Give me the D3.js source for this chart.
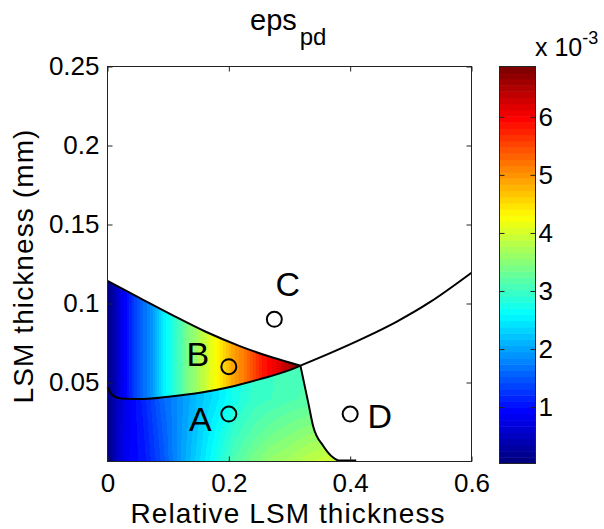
<!DOCTYPE html>
<html>
<head>
<meta charset="utf-8">
<script src="https://cdn.jsdelivr.net/npm/d3@7"></script>
<style>
  body { margin: 0; background: #fff; }
  text { font-family: "Liberation Sans", Arial, sans-serif; fill: #000; }
</style>
</head>
<body>
<svg id="chart" width="604" height="529"></svg>
<script>
// ticks
var xTicks = [0, 0.2, 0.4, 0.6];
var yTicks = [0.05, 0.1, 0.15, 0.2, 0.25];
var cTicks = [1, 2, 3, 4, 5, 6];
var cRange = [0.03, 6.866];   // colour limits, x 10^-3

// boundary curves [relative thickness, thickness mm]
var upperEdge = [[0, 0.1143], [0.052, 0.1037], [0.107, 0.0926], [0.162, 0.0821], [0.217, 0.0732], [0.272, 0.0658], [0.318, 0.0607]];
var lowerEdge = [[0, 0.047], [0.005, 0.0435], [0.015, 0.0405], [0.03, 0.0397], [0.06, 0.0396], [0.1, 0.041], [0.15, 0.0433], [0.2, 0.047], [0.25, 0.052], [0.3, 0.0578], [0.318, 0.0607]];
var rightEdge = [[0.318, 0.0607], [0.367, 0.0686], [0.422, 0.0781], [0.477, 0.0886], [0.532, 0.101], [0.6, 0.1195]];
var dropEdge = [[0.318, 0.0607], [0.331, 0.0371], [0.339, 0.0223], [0.356, 0.0097], [0.372, 0.0025], [0.382, 0.0006], [0.41, 0.0006]];

// eps_pd above the lower edge (x 10^-3), depends on x only
var bCols = [0, 0.015, 0.03, 0.05, 0.075, 0.09, 0.11, 0.135, 0.16, 0.18, 0.205, 0.23, 0.255, 0.285, 0.305, 0.32];
var bVals = [0.1, 0.5, 0.95, 1.45, 1.95, 2.45, 2.9, 3.45, 3.9, 4.3, 4.85, 5.25, 5.8, 6.2, 6.6, 6.86];

// eps_pd below the lower edge (x 10^-3), grid rows = thickness
var aCols = [0, 0.015, 0.03, 0.06, 0.09, 0.12, 0.15, 0.18, 0.21, 0.24, 0.27, 0.30, 0.33, 0.36, 0.39];
var aRows = [0, 0.02, 0.04, 0.06];
var aVals = [
    [0.1, 0.5, 0.85, 1.05, 1.45, 1.95, 2.35, 2.75, 3.15, 3.4, 3.6, 3.7, 3.85, 3.95, 4.0],
    [0.1, 0.5, 0.82, 1.1, 1.52, 1.92, 2.28, 2.62, 2.95, 3.15, 3.3, 3.4, 3.5, 3.55, 3.6],
    [0.1, 0.5, 0.8, 1.15, 1.6, 1.9, 2.2, 2.45, 2.75, 2.95, 3.02, 3.1, 3.15, 3.2, 3.25],
    [0.1, 0.5, 0.8, 1.15, 1.6, 1.9, 2.2, 2.45, 2.72, 2.92, 3.0, 3.08, 3.12, 3.15, 3.2]
];

// marked points and their letters
var pointNames = ['A', 'B', 'C', 'D'];
var pointX = [0.2, 0.2, 0.275, 0.4];
var pointY = [0.03, 0.06, 0.09, 0.03];
var letterX = [0.153, 0.149, 0.297, 0.449];
var letterY = [0.019, 0.0606, 0.1048, 0.0215];

var svg = d3.select('#chart');

var x = d3.scaleLinear().domain([0, 0.6]).range([107.5, 471.5]),
    y = d3.scaleLinear().domain([0, 0.25]).range([461.5, 66.5]);

function jet(t) {
    var f = function(v) { return Math.max(0, Math.min(1, v)) * 255; };
    return d3.rgb(f(1.5 - Math.abs(4*t - 3)), f(1.5 - Math.abs(4*t - 2)), f(1.5 - Math.abs(4*t - 1))).formatHex();
}
var jet64 = d3.range(64).map(function(i) { return jet(i / 63); });
var color = d3.scaleQuantize().domain(cRange).range(jet64);

// field images
var imgX = 107, imgY = 66, imgW = 366, imgH = 397;

function fieldImage(colValue) {
    var cv = document.createElement('canvas');
    cv.width = imgW; cv.height = imgH;
    var ctx = cv.getContext('2d'),
        img = ctx.createImageData(imgW, imgH);
    for (var i = 0; i < imgW; i++) {
        var vAt = colValue(x.invert(imgX + i + 0.5));
        for (var j = 0; j < imgH; j++) {
            var c = d3.rgb(color(vAt(y.invert(imgY + j + 0.5)))),
                k = (j * imgW + i) * 4;
            img.data[k] = c.r; img.data[k+1] = c.g; img.data[k+2] = c.b; img.data[k+3] = 255;
        }
    }
    ctx.putImageData(img, 0, 0);
    return cv.toDataURL();
}

var bScale = d3.scaleLinear().domain(bCols).range(bVals).clamp(true);
var aRowScales = aVals.map(function(r) { return d3.scaleLinear().domain(aCols).range(r).clamp(true); });

var imgB = fieldImage(function(dx) {
    var v = bScale(dx);
    return function() { return v; };
});
var imgA = fieldImage(function(dx) {
    return d3.scaleLinear().domain(aRows).range(aRowScales.map(function(s) { return s(dx); })).clamp(true);
});

var edge = d3.line()
    .x(function(d) { return x(d[0]); })
    .y(function(d) { return y(d[1]); })
    .curve(d3.curveMonotoneX);

var pathB = edge(upperEdge) + edge(lowerEdge.slice().reverse()).replace(/^M/, 'L') + 'Z';
var pathA = edge(lowerEdge) + edge(dropEdge).replace(/^M/, 'L') +
    'L' + x(dropEdge[dropEdge.length-1][0]) + ',' + y(0) + 'L' + x(0) + ',' + y(0) + 'Z';

var defs = svg.append('defs');
defs.append('clipPath').attr('id', 'clipB').append('path').attr('d', pathB);
defs.append('clipPath').attr('id', 'clipA').append('path').attr('d', pathA);

svg.append('image').attr('href', imgB)
    .attr('x', imgX).attr('y', imgY).attr('width', imgW).attr('height', imgH)
    .attr('clip-path', 'url(#clipB)');
svg.append('image').attr('href', imgA)
    .attr('x', imgX).attr('y', imgY).attr('width', imgW).attr('height', imgH)
    .attr('clip-path', 'url(#clipA)');

// boundary lines
var smooth = d3.line()
    .x(function(d) { return x(d[0]); })
    .y(function(d) { return y(d[1]); })
    .curve(d3.curveCatmullRom.alpha(0.5));

svg.selectAll('path.edge')
    .data([upperEdge, lowerEdge, dropEdge])
    .enter()
    .append('path')
    .attr('class', 'edge')
    .attr('d', edge)
    .attr('fill', 'none')
    .attr('stroke', '#000')
    .attr('stroke-width', 2);

svg.append('path')
    .attr('d', smooth(rightEdge))
    .attr('fill', 'none')
    .attr('stroke', '#000')
    .attr('stroke-width', 2);

// markers
svg.selectAll('circle.pt')
    .data(pointNames)
    .enter()
    .append('circle')
    .attr('class', 'pt')
    .attr('cx', function(d, i) { return x(pointX[i]); })
    .attr('cy', function(d, i) { return y(pointY[i]); })
    .attr('r', 7.5)
    .attr('fill', 'none')
    .attr('stroke', '#000')
    .attr('stroke-width', 2);

svg.selectAll('text.letter')
    .data(pointNames)
    .enter()
    .append('text')
    .attr('class', 'letter')
    .attr('x', function(d, i) { return x(letterX[i]); })
    .attr('y', function(d, i) { return y(letterY[i]); })
    .attr('text-anchor', 'middle')
    .style('font-size', '34px')
    .text(function(d) { return d; });

// axes box and ticks
svg.append('rect')
    .attr('x', 107.5).attr('y', 66.5).attr('width', 364).attr('height', 395)
    .attr('fill', 'none').attr('stroke', '#222').attr('stroke-width', 1);

function styleAxis(g) {
    g.select('.domain').remove();
    g.selectAll('line').attr('stroke', '#222');
    g.selectAll('text').style('font-size', '26px').attr('fill', '#000');
}

svg.append('g').attr('transform', 'translate(0,461.5)')
    .call(d3.axisBottom(x).tickValues(xTicks).tickSize(-5).tickPadding(12).tickFormat(String))
    .call(styleAxis);
svg.append('g').attr('transform', 'translate(0,66.5)')
    .call(d3.axisTop(x).tickValues(xTicks).tickSize(-5).tickFormat(''))
    .call(styleAxis);
svg.append('g').attr('transform', 'translate(107.5,0)')
    .call(d3.axisLeft(y).tickValues(yTicks).tickSize(-5).tickPadding(8).tickFormat(String))
    .call(styleAxis);
svg.append('g').attr('transform', 'translate(471.5,0)')
    .call(d3.axisRight(y).tickValues(yTicks).tickSize(-5).tickFormat(''))
    .call(styleAxis);

svg.selectAll('.tick text').attr('font-family', null);

// labels
svg.append('text')
    .attr('x', 288).attr('y', 523)
    .attr('text-anchor', 'middle')
    .style('font-size', '28px').style('letter-spacing', '1.1px')
    .text('Relative LSM thickness');

svg.append('text')
    .attr('transform', 'translate(33,266) rotate(-90)')
    .attr('text-anchor', 'middle')
    .style('font-size', '28px').style('letter-spacing', '1.1px')
    .text('LSM thickness (mm)');

var title = svg.append('text')
    .attr('x', 250).attr('y', 30)
    .style('font-size', '29px');
title.append('tspan').text('eps');
title.append('tspan').attr('dx', 3).attr('dy', 15).style('font-size', '24px').text('pd');

// colorbar
var cy = d3.scaleLinear().domain(cRange).range([463.5, 66.5]);
var cbX = 499.5, cbW = 36;
var step = (cRange[1] - cRange[0]) / 64;

svg.selectAll('rect.band')
    .data(jet64)
    .enter()
    .append('rect')
    .attr('class', 'band')
    .attr('x', cbX)
    .attr('width', cbW)
    .attr('y', function(d, i) { return cy(cRange[0] + (i + 1) * step); })
    .attr('height', function(d, i) { return cy(cRange[0] + i * step) - cy(cRange[0] + (i + 1) * step) + 0.5; })
    .attr('fill', function(d) { return d; });

svg.append('rect')
    .attr('x', cbX).attr('y', 66.5).attr('width', cbW).attr('height', 397)
    .attr('fill', 'none').attr('stroke', '#222').attr('stroke-width', 1);

svg.append('g').attr('transform', 'translate(' + (cbX + cbW) + ',0)')
    .call(d3.axisRight(cy).tickValues(cTicks).tickSize(-5).tickPadding(3).tickFormat(String))
    .call(styleAxis);
svg.append('g').attr('transform', 'translate(' + cbX + ',0)')
    .call(d3.axisLeft(cy).tickValues(cTicks).tickSize(-5).tickFormat(''))
    .call(styleAxis);

var expo = svg.append('text')
    .attr('x', 535).attr('y', 56)
    .style('font-size', '25px');
expo.append('tspan').text('x 10');
expo.append('tspan').attr('dy', -12).style('font-size', '18px').text('-3');
</script>
</body>
</html>
